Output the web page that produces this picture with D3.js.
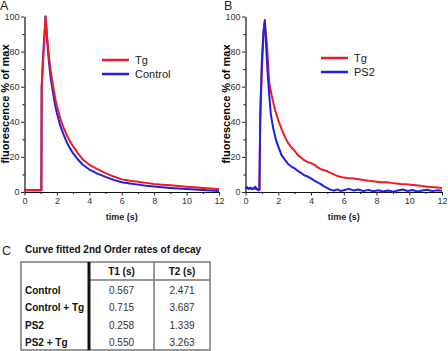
<!DOCTYPE html>
<html>
<head>
<meta charset="utf-8">
<script src="https://cdn.jsdelivr.net/npm/d3@7"></script>
<style>
  body { margin: 0; background: #fff; }
  svg { display: block; font-family: "Liberation Sans", Arial, sans-serif; }
</style>
</head>
<body>
<div id="chart"></div>
<script>
// panel A: Tg vs Control
const timeA = [0, 0.5, 1.0, 1.04, 1.06, 1.15, 1.3, 1.4, 1.5, 1.6, 1.75, 1.9, 2.0, 2.2, 2.4, 2.6, 2.8, 3.0, 3.3, 3.6, 4.0, 4.5, 5.0, 5.5, 6.0, 6.5, 7.0, 7.5, 8.0, 8.5, 9.0, 9.5, 10.0, 10.5, 11.0, 11.5, 12.0];
const tgA = [1, 1.2, 1, 1, 60, 75, 100, 88, 78, 70, 61, 53, 49, 42, 37, 32.5, 29, 26, 22, 18.5, 15.5, 13, 10.8, 8.8, 7.2, 6.4, 5.8, 5.2, 4.6, 4.2, 3.8, 3.4, 3.0, 2.7, 2.3, 2.0, 1.6];
const controlA = [1, 1, 1, 1, 60, 78, 100, 86, 75, 66, 57, 49, 45, 38, 33, 28.5, 25, 22, 18.5, 15.5, 12.8, 10.5, 8.6, 6.9, 5.6, 4.8, 4.2, 3.6, 3.1, 2.7, 2.3, 2.0, 1.7, 1.4, 1.1, 0.8, 0.6];

// panel B: Tg vs PS2
const timeTgB = [0, 0.4, 0.85, 0.9, 1.0, 1.1, 1.18, 1.3, 1.45, 1.6, 1.8, 2.0, 2.2, 2.4, 2.6, 2.8, 3.0, 3.2, 3.4, 3.6, 3.8, 4.0, 4.2, 4.4, 4.6, 4.8, 5.0, 5.3, 5.6, 5.9, 6.2, 6.5, 6.8, 7.1, 7.4, 7.7, 8.0, 8.3, 8.6, 8.9, 9.2, 9.5, 9.8, 10.1, 10.4, 10.7, 11.0, 11.3, 11.6, 12.0];
const tgB = [2, 2, 1.5, 40, 70, 90, 97, 85, 62, 55, 47, 41, 36, 31.5, 28, 25.5, 23.5, 21, 19.5, 18, 17, 16.5, 15.6, 14.2, 13, 12.4, 11.8, 10.5, 9.2, 8.4, 8.0, 7.8, 7.4, 7.0, 6.6, 6.2, 5.9, 5.6, 5.5, 5.2, 4.9, 4.6, 4.4, 4.1, 3.9, 3.5, 3.2, 2.9, 2.7, 2.3];
const timePs2B = [0, 0.1, 0.2, 0.3, 0.4, 0.5, 0.6, 0.7, 0.8, 0.85, 0.9, 1.0, 1.1, 1.18, 1.25, 1.35, 1.45, 1.55, 1.7, 1.85, 2.0, 2.2, 2.4, 2.6, 2.8, 3.0, 3.2, 3.4, 3.6, 3.8, 4.0, 4.2, 4.4, 4.6, 4.8, 5.0, 5.2, 5.4, 5.6, 5.8, 6.0, 6.3, 6.6, 6.9, 7.2, 7.5, 7.8, 8.1, 8.4, 8.7, 9.0, 9.3, 9.6, 9.9, 10.2, 10.5, 10.8, 11.1, 11.4, 11.7, 12.0];
const ps2B = [2, 2.8, 1.8, 2.5, 1.6, 2.2, 3.0, 1.5, 1.0, 1.2, 45, 75, 92, 98, 85, 68, 55, 44, 36, 30, 26, 21, 18.5, 16, 14.5, 13.5, 12, 10.8, 9.5, 8.8, 7.8, 6.5, 5.5, 4.5, 3.2, 2.2, 1.2, 0.8, 1.5, 0.6, 1.0, 1.8, 0.9, 1.4, 0.5, 1.2, 0.4, 1.0, 0.3, 0.9, 0.2, 0.8, 1.4, 0.6, 1.1, 0.3, 0.9, 1.3, 0.5, 1.0, 0.7];

const xTicks = [0, 2, 4, 6, 8, 10, 12];
const yTicks = [0, 20, 40, 60, 80, 100];

// panel C table
const rowNames = ["Control", "Control + Tg", "PS2", "PS2 + Tg"];
const colNames = ["T1 (s)", "T2 (s)"];
const t1Values = ["0.567", "0.715", "0.258", "0.550"];
const t2Values = ["2.471", "3.687", "1.339", "3.263"];

const RED = "#ee1c24", BLUE = "#1f1fe6";

const svg = d3.select("#chart").append("svg")
  .attr("width", 448).attr("height", 351);

function drawPanel(left, right, series, legend) {
  const x = d3.scaleLinear().domain([0, 12]).range([left, right]);
  const y = d3.scaleLinear().domain([0, 100]).range([192, 16.5]);
  const g = svg.append("g");

  // minor ticks
  g.append("g").attr("transform", `translate(0,192)`)
    .call(d3.axisBottom(x).tickValues(d3.range(1, 12, 2)).tickSize(2).tickFormat(""))
    .call(a => a.select(".domain").remove());
  g.append("g").attr("transform", `translate(${left},0)`)
    .call(d3.axisLeft(y).tickValues(d3.range(10, 100, 20)).tickSize(2).tickFormat(""))
    .call(a => a.select(".domain").remove());

  const xa = g.append("g").attr("transform", `translate(0,192)`)
    .call(d3.axisBottom(x).tickValues(xTicks).tickSize(3.5).tickSizeOuter(0).tickPadding(2));
  const ya = g.append("g").attr("transform", `translate(${left},0)`)
    .call(d3.axisLeft(y).tickValues(yTicks).tickSize(3.5).tickSizeOuter(0).tickPadding(1.5));
  [xa, ya].forEach(a => {
    a.selectAll("text").attr("font-size", 9).attr("fill", "#333").attr("font-family", null);
    a.selectAll("line").attr("stroke", "#222");
    a.select(".domain").attr("stroke", "#111").attr("stroke-width", 1.2);
  });

  const line = d3.line().x(d => x(d[0])).y(d => y(d[1]));
  series.forEach(s => {
    g.append("path")
      .datum(s.t.map((t, i) => [t, s.v[i]]))
      .attr("d", line)
      .attr("fill", "none")
      .attr("stroke", s.color)
      .attr("stroke-width", 2)
      .attr("stroke-linejoin", "round");
  });

  g.append("text")
    .attr("x", (left + right) / 2).attr("y", 220)
    .attr("text-anchor", "middle").attr("font-size", 9).attr("font-weight", "bold")
    .attr("fill", "#222")
    .text("time (s)");

  g.append("text")
    .attr("transform", `translate(${left - 15.5},104) rotate(-90)`)
    .attr("text-anchor", "middle").attr("font-size", 11).attr("font-weight", "bold")
    .text("fluorescence % of max");

  legend.items.forEach((it, i) => {
    const ly = legend.y + i * 14;
    g.append("line")
      .attr("x1", legend.x).attr("x2", legend.x + 27)
      .attr("y1", ly).attr("y2", ly)
      .attr("stroke", it.color).attr("stroke-width", 2.5);
    g.append("text")
      .attr("x", legend.x + 33).attr("y", ly + 4)
      .attr("font-size", 11).attr("fill", "#222")
      .text(it.name);
  });
}

drawPanel(24.5, 219, [
  { t: timeA, v: controlA, color: BLUE },
  { t: timeA, v: tgA, color: RED }
], { x: 102, y: 60, items: [{ name: "Tg", color: RED }, { name: "Control", color: BLUE }] });

drawPanel(245.5, 442, [
  { t: timeTgB, v: tgB, color: RED },
  { t: timePs2B, v: ps2B, color: BLUE }
], { x: 321, y: 58, items: [{ name: "Tg", color: RED }, { name: "PS2", color: BLUE }] });

// panel letters
[["A", 0, 10], ["B", 224, 10], ["C", 2, 255]].forEach(([t, lx, ly]) => {
  svg.append("text").attr("x", lx).attr("y", ly)
    .attr("font-size", 12.5).attr("fill", "#222").text(t);
});

// table
svg.append("text").attr("x", 25).attr("y", 253)
  .attr("font-size", 10).attr("font-weight", "bold").attr("fill", "#111")
  .text("Curve fitted 2nd Order rates of decay");

const tLeft = 21, tRight = 210, tTop = 262, headBottom = 280, tBottom = 350;
const colX = d3.scaleOrdinal().domain(colNames).range([[89, 154], [154, 210]]);
const rowY = d3.scaleBand().domain(rowNames).range([headBottom + 1, tBottom + 1]);
const tg = svg.append("g");

tg.append("rect").attr("x", tLeft).attr("y", tTop)
  .attr("width", tRight - tLeft).attr("height", tBottom - tTop)
  .attr("fill", "none").attr("stroke", "#777").attr("stroke-width", 1.5);
tg.append("line").attr("x1", 89).attr("x2", tRight)
  .attr("y1", headBottom).attr("y2", headBottom)
  .attr("stroke", "#777").attr("stroke-width", 1.5);
tg.append("line").attr("x1", 154).attr("x2", 154)
  .attr("y1", tTop).attr("y2", tBottom)
  .attr("stroke", "#777").attr("stroke-width", 1.5);
tg.append("line").attr("x1", 89).attr("x2", 89)
  .attr("y1", tTop).attr("y2", tBottom)
  .attr("stroke", "#111").attr("stroke-width", 3);

colNames.forEach(c => {
  const [a, b] = colX(c);
  tg.append("text").attr("x", (a + b) / 2).attr("y", (tTop + headBottom) / 2 + 4)
    .attr("text-anchor", "middle").attr("font-size", 10).attr("font-weight", "bold")
    .attr("fill", "#111").text(c);
});

rowNames.forEach((r, i) => {
  const cy = rowY(r) + rowY.bandwidth() / 2 + 4;
  tg.append("text").attr("x", 25).attr("y", cy)
    .attr("font-size", 10).attr("font-weight", "bold").attr("fill", "#111").text(r);
  [t1Values[i], t2Values[i]].forEach((v, j) => {
    const [a, b] = colX(colNames[j]);
    tg.append("text").attr("x", (a + b) / 2).attr("y", cy)
      .attr("text-anchor", "middle").attr("font-size", 10).attr("fill", "#333").text(v);
  });
});
</script>
</body>
</html>
